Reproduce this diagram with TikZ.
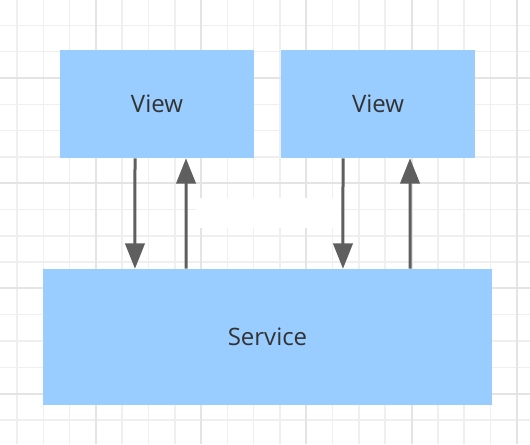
\documentclass[tikz,border=0pt]{standalone}
\usepackage{fontspec}
\setmainfont{Open Sans}
\usepackage{xcolor}
\definecolor{boxBlue}{HTML}{99CCFF}
\definecolor{arrowGray}{HTML}{5F5F5F}
\definecolor{gridMinor}{HTML}{EFEFEF}
\definecolor{gridMajor}{HTML}{E4E4E4}
\definecolor{textDark}{HTML}{333333}
\usepackage{tikz}
\usetikzlibrary{arrows.meta,positioning}

\begin{document}
\begin{tikzpicture}[x=0.75pt,y=-0.75pt,
  box/.style={fill=boxBlue, text=textDark, inner sep=0pt, font=\fontsize{18}{21}\selectfont},
  link/.style={arrowGray, line width=2.25pt, -{Triangle[length=19pt,width=14.5pt]}}]
  \useasboundingbox[fill=white] (0,0) rectangle (530,444);
  % background grid
  \foreach \i in {0,...,19}{\draw[gridMinor, line width=1.1pt] ({17+26.3*\i},0) -- ({17+26.3*\i},444);}
  \foreach \j in {0,...,17}{\draw[gridMinor, line width=1.1pt] (0,{-0.9+26.3*\j}) -- (530,{-0.9+26.3*\j});}
  \foreach \i in {3,7,...,19}{\draw[gridMajor, line width=1.5pt] ({17+26.3*\i},0) -- ({17+26.3*\i},444);}
  \foreach \j in {3,7,...,15}{\draw[gridMajor, line width=1.5pt] (0,{-0.9+26.3*\j}) -- (530,{-0.9+26.3*\j});}
  \fill[white] (196,198) rectangle (340,228);
  % boxes
  \node[box, minimum width=145.5pt, minimum height=81pt] (view1) at (157,104) {View};
  \node[box, minimum width=145.5pt, minimum height=81pt] (view2) at (378,104) {View};
  \node[box, minimum width=336.75pt, minimum height=102pt] (service) at (267.5,337) {Service};
  % requests and replies
  \draw[link] ([xshift=-16.5pt]view1.south) -- ([xshift=-99.4pt]service.north);
  \draw[link] ([xshift=-61.1pt]service.north) -- ([xshift=21.75pt]view1.south);
  \draw[link] ([xshift=-26.25pt]view2.south) -- ([xshift=56.6pt]service.north);
  \draw[link] ([xshift=106.9pt]service.north) -- ([xshift=24pt]view2.south);
\end{tikzpicture}
\end{document}
